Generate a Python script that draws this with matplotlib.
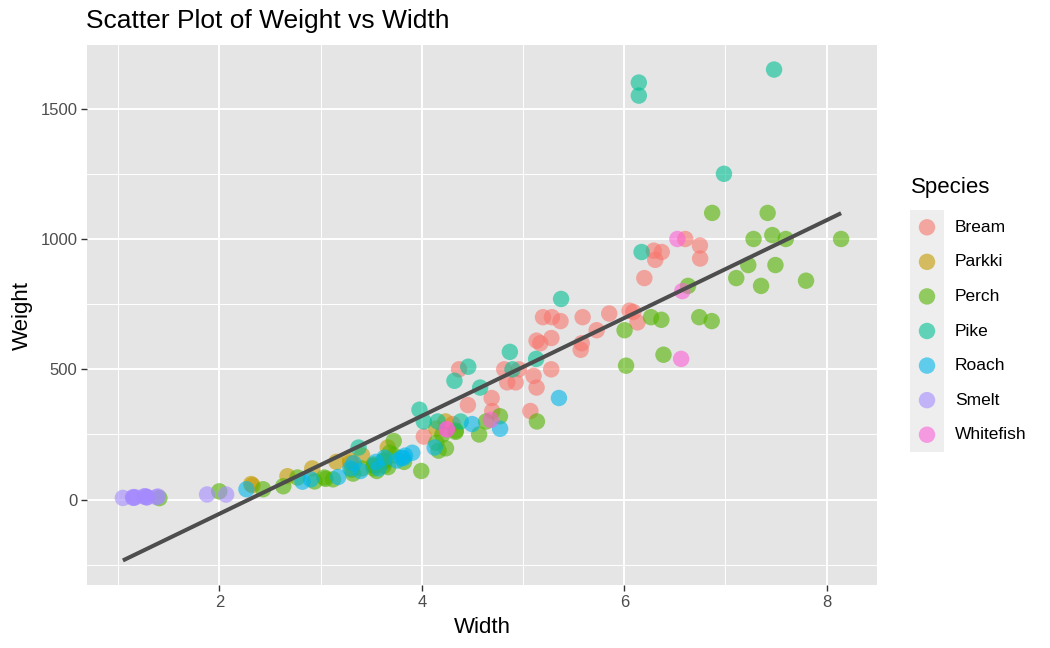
import matplotlib
matplotlib.use("Agg")
import matplotlib.pyplot as plt
import numpy as np

plt.rcParams["font.family"] = ["Liberation Sans", "DejaVu Sans"]

SPECIES = ["Bream", "Parkki", "Perch", "Pike", "Roach", "Smelt", "Whitefish"]
COLORS = ["#F8766D", "#C49A00", "#53B400", "#00C094", "#00B6EB", "#A58AFF", "#FB61D7"]

bream_width = [4.02, 4.3056, 4.6961, 4.4555, 5.134, 4.9274, 5.2785, 4.69, 4.8438, 4.9594,
               5.1042, 4.8146, 4.368, 5.0728, 5.1708, 5.58, 5.2854, 5.1975, 5.1338, 5.7276,
               5.5695, 5.3704, 5.2801, 6.1306, 5.589, 6.0532, 6.09, 5.8515, 6.1984, 6.603,
               6.3063, 6.292, 6.7497, 6.7473, 6.3705]
bream_weight = [242, 290, 340, 363, 430, 450, 500, 390, 450, 500,
                475, 500, 500, 340, 600, 600, 700, 700, 610, 650,
                575, 685, 620, 680, 700, 725, 720, 714, 850, 1000,
                920, 955, 925, 975, 950]

parkki_width = [2.3265, 2.3142, 2.673, 2.9181, 3.2928, 3.2944, 3.4104, 3.1571, 3.6636, 4.144, 4.234]
parkki_weight = [55, 60, 90, 120, 150, 140, 170, 145, 200, 273, 300]

perch_width = [1.408, 1.9992, 2.432, 2.6316, 2.9415, 3.3216, 3.1234, 3.0502, 3.0368, 2.772,
               3.555, 3.3075, 3.6675, 3.534, 3.4075, 3.525, 3.525, 3.525, 3.995, 3.624,
               3.624, 3.63, 3.626, 3.725, 3.723, 3.825, 4.1658, 3.6835, 4.239, 4.144,
               5.1373, 4.335, 4.335, 4.5662, 4.2042, 4.6354, 4.7716, 6.018, 6.3875, 7.7957,
               6.864, 6.7408, 6.2646, 6.3666, 7.4934, 6.003, 7.3514, 7.1064, 7.225, 7.4624,
               6.63, 6.8684, 7.2772, 7.4165, 8.142, 7.5958]
perch_weight = [5.9, 32, 40, 51.5, 70, 100, 78, 80, 85, 85,
                110, 115, 125, 130, 120, 120, 130, 135, 110, 130,
                150, 145, 150, 170, 225, 145, 188, 180, 197, 218,
                300, 260, 265, 250, 250, 300, 320, 514, 556, 840,
                685, 700, 700, 690, 900, 650, 820, 850, 900, 1015,
                820, 1100, 1000, 1100, 1000, 1000]

pike_width = [3.3756, 4.158, 4.3844, 4.0198, 4.5765, 3.977, 4.3225, 4.459, 5.1296, 4.896,
              4.87, 5.376, 6.1712, 6.9849, 6.144, 6.144, 7.48]
pike_weight = [200, 300, 300, 300, 430, 345, 456, 510, 540, 500,
               567, 770, 950, 1250, 1600, 1550, 1650]

roach_width = [2.268, 2.8217, 2.9044, 3.1746, 3.5742, 3.3957, 3.2943, 3.7544, 3.5478,
               3.8203, 3.325, 3.8, 3.8352, 3.6312, 4.1272, 3.906, 4.4968, 4.7736, 5.355]
roach_weight = [40, 69, 78, 87, 120, 110, 120, 150, 145,
                160, 140, 160, 169, 161, 200, 180, 290, 272, 390]

smelt_width = [1.0476, 1.16, 1.1484, 1.38, 1.2772, 1.2852, 1.2838, 1.1659, 1.1484, 1.3936,
               1.269, 1.2558, 2.0672, 1.8792]
smelt_weight = [6.7, 7.5, 7, 9.7, 9.8, 8.7, 10, 9.9, 9.8, 12.2, 13.4, 12.2, 19.7, 19.9]

whitefish_width = [4.2476, 4.2485, 4.6816, 6.562, 6.5736, 6.525]
whitefish_weight = [270, 270, 306, 540, 800, 1000]

WIDTHS = [bream_width, parkki_width, perch_width, pike_width, roach_width, smelt_width, whitefish_width]
WEIGHTS = [bream_weight, parkki_weight, perch_weight, pike_weight, roach_weight, smelt_weight, whitefish_weight]

PANEL = "#E5E5E5"

fig = plt.figure(figsize=(10.5, 6.48), dpi=100)
ax = fig.add_axes([87 / 1050, 1 - 585 / 648, (877 - 87) / 1050, (585 - 45) / 648])
ax.set_facecolor(PANEL)

for sp, w, y, c in zip(SPECIES, WIDTHS, WEIGHTS, COLORS):
    ax.scatter(w, y, s=140, color=c, alpha=0.6, edgecolors="none", zorder=3)

# linear fit over all fish
all_x = np.concatenate([np.array(w, float) for w in WIDTHS])
all_y = np.concatenate([np.array(y, float) for y in WEIGHTS])
slope, intercept = np.polyfit(all_x, all_y, 1)
xs = np.array([all_x.min(), all_x.max()])
ys = slope * xs + intercept
ax.plot(xs, ys, color="#4D4D4D", linewidth=2.9, solid_capstyle="butt", zorder=4)

# ggplot-style limits with 5% expansion
xr = all_x.max() - all_x.min()
ax.set_xlim(all_x.min() - 0.05 * xr, all_x.max() + 0.05 * xr)
ylo = min(all_y.min(), ys.min())
yhi = max(all_y.max(), ys.max())
yr = yhi - ylo
ax.set_ylim(ylo - 0.05 * yr, yhi + 0.05 * yr)

ax.set_xticks([2, 4, 6, 8])
ax.set_yticks([0, 500, 1000, 1500])
ax.set_xticks([1, 3, 5, 7], minor=True)
ax.set_yticks([-250, 250, 750, 1250], minor=True)
ax.grid(which="major", color="white", linewidth=1.4, zorder=0)
ax.grid(which="minor", color="white", linewidth=0.7, zorder=0)
ax.set_axisbelow(True)
ax.tick_params(which="major", length=4, width=1, color="#333333", labelsize=12,
               labelcolor="#4D4D4D", pad=3)
ax.tick_params(which="minor", length=0)
for s in ax.spines.values():
    s.set_visible(False)

ax.set_xlabel("Width", fontsize=16, labelpad=5)
ax.set_ylabel("Weight", fontsize=16, labelpad=5)
fig.text(86 / 1050, 1 - 28 / 648, "Scatter Plot of Weight vs Width", fontsize=19,
         ha="left", va="baseline")

# legend drawn as its own small axes
lax = fig.add_axes([910 / 1050, 1 - 452 / 648, 34 / 1050, 242 / 648])
lax.set_facecolor("#EEEEEE")
n = len(SPECIES)
for i, (sp, c) in enumerate(zip(SPECIES, COLORS)):
    lax.scatter([0.5], [n - 1 - i + 0.5], s=140, color=c, alpha=0.6, edgecolors="none")
    lax.text(1.32, n - 1 - i + 0.5, sp, fontsize=12.5, va="center", ha="left",
             transform=lax.transData, clip_on=False)
lax.set_xlim(0, 1)
lax.set_ylim(0, n)
lax.set_xticks([])
lax.set_yticks([])
for s in lax.spines.values():
    s.set_visible(False)
fig.text(911 / 1050, 1 - 188 / 648, "Species", fontsize=16, ha="left", va="center")

fig.savefig("out.png", dpi=100, facecolor="white")
